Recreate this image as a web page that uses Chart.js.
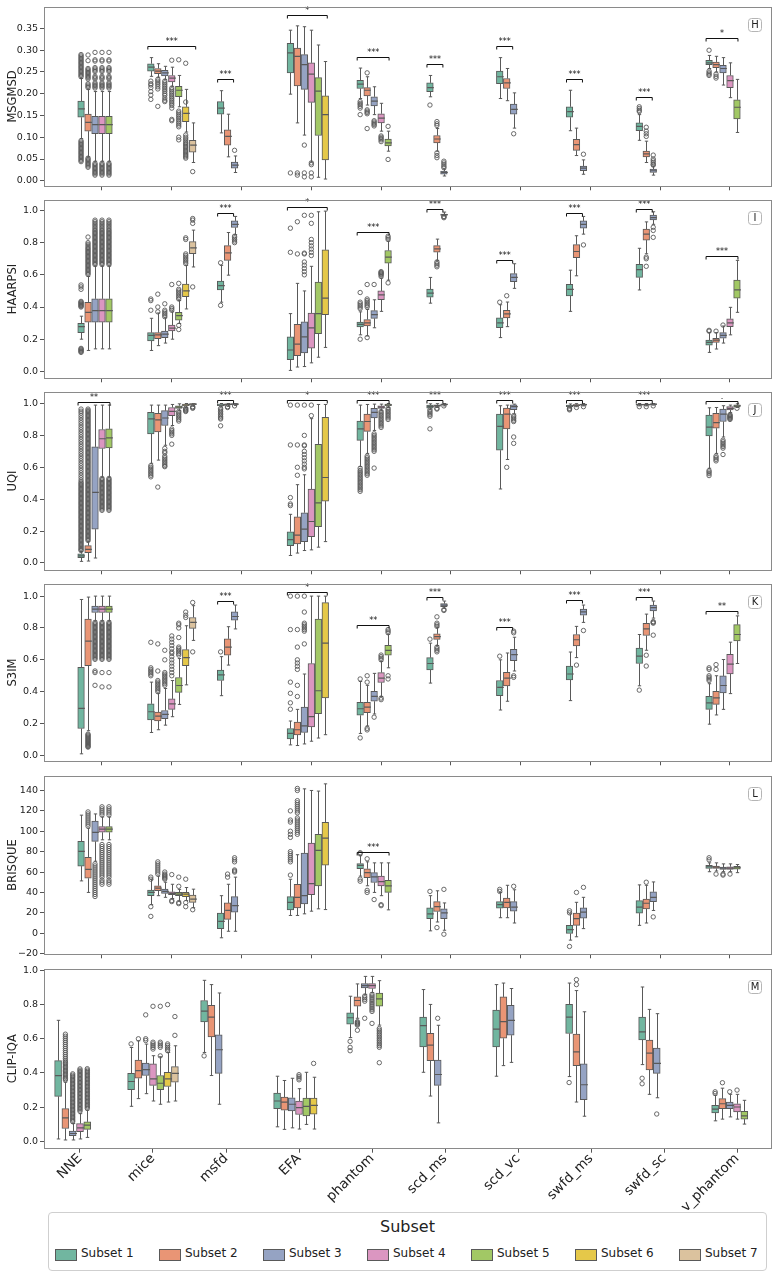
<!DOCTYPE html>
<html lang="en">
<head>
<meta charset="UTF-8">
<title>Metric distributions per subset</title>
<script src="https://cdn.jsdelivr.net/npm/chart.js"></script>
<style>
  body { margin: 0; background: #fff; font-family: "DejaVu Sans", sans-serif; }
  #page { position: relative; width: 777px; height: 1279px; overflow: hidden; }
  #page canvas { position: absolute; left: 0; }
  .legend { position: absolute; left: 48px; top: 1212px; width: 719px; height: 59px;
            border: 1px solid #cfcfcf; border-radius: 4px; box-sizing: border-box; color: #222; }
  .legend-title { position: absolute; top: 4px; left: 0; width: 100%; text-align: center; font-size: 16px; }
  .legend-item { position: absolute; top: 35px; height: 14px; font-size: 12px; white-space: nowrap; }
  .legend-item span.patch { position: absolute; left: 0; top: 1px; width: 20px; height: 10px; border: 1px solid #595959; }
  .legend-item span.label { position: absolute; left: 26px; top: -2px; }
</style>
</head>
<body>
<div id="page">
  <div class="legend" id="legend"><div class="legend-title">Subset</div></div>
</div>
<script>
// ---- data ----
const categories = ['NNE', 'mice', 'msfd', 'EFA', 'phantom', 'scd_ms', 'scd_vc', 'swfd_ms', 'swfd_sc', 'v_phantom'];
const subsets = ['Subset 1', 'Subset 2', 'Subset 3', 'Subset 4', 'Subset 5', 'Subset 6', 'Subset 7'];

const msgmsdTicks = [0, 0.05, 0.1, 0.15, 0.2, 0.25, 0.3, 0.35];
const unitTicks = [0, 0.2, 0.4, 0.6, 0.8, 1.0];
const brisqueTicks = [-20, 0, 20, 40, 60, 80, 100, 120, 140];

// box rows: [category, subset, lower whisker, q1, median, q3, upper whisker]
const msgmsdBoxes = [
  ['NNE', 1, 0.097, 0.146, 0.165, 0.183, 0.235], ['NNE', 2, 0.055, 0.114, 0.134, 0.153, 0.21],
  ['NNE', 3, 0.045, 0.108, 0.129, 0.148, 0.205], ['NNE', 4, 0.045, 0.108, 0.129, 0.148, 0.205],
  ['NNE', 5, 0.045, 0.108, 0.129, 0.148, 0.205],
  ['mice', 1, 0.24, 0.252, 0.261, 0.269, 0.283], ['mice', 2, 0.238, 0.246, 0.252, 0.258, 0.269],
  ['mice', 3, 0.233, 0.241, 0.248, 0.254, 0.263], ['mice', 4, 0.217, 0.227, 0.236, 0.242, 0.261],
  ['mice', 5, 0.17, 0.193, 0.208, 0.217, 0.242], ['mice', 6, 0.112, 0.136, 0.155, 0.17, 0.21],
  ['mice', 7, 0.042, 0.066, 0.082, 0.093, 0.133],
  ['msfd', 1, 0.11, 0.153, 0.167, 0.182, 0.207], ['msfd', 2, 0.055, 0.082, 0.102, 0.117, 0.153],
  ['msfd', 3, 0.019, 0.029, 0.036, 0.043, 0.057],
  ['EFA', 1, 0.199, 0.248, 0.294, 0.316, 0.346], ['EFA', 2, 0.133, 0.218, 0.286, 0.305, 0.356],
  ['EFA', 3, 0.105, 0.21, 0.267, 0.29, 0.354], ['EFA', 4, 0.043, 0.18, 0.245, 0.271, 0.346],
  ['EFA', 5, 0.008, 0.104, 0.206, 0.237, 0.312], ['EFA', 6, 0.004, 0.048, 0.152, 0.195, 0.274],
  ['phantom', 1, 0.189, 0.212, 0.222, 0.231, 0.259], ['phantom', 2, 0.174, 0.195, 0.208, 0.214, 0.239],
  ['phantom', 3, 0.152, 0.172, 0.183, 0.193, 0.216], ['phantom', 4, 0.114, 0.133, 0.144, 0.154, 0.178],
  ['phantom', 5, 0.068, 0.08, 0.087, 0.096, 0.114],
  ['scd_ms', 1, 0.193, 0.205, 0.214, 0.225, 0.242], ['scd_ms', 2, 0.068, 0.087, 0.096, 0.104, 0.12],
  ['scd_ms', 3, 0.011, 0.015, 0.019, 0.022, 0.027],
  ['scd_vc', 1, 0.189, 0.223, 0.239, 0.252, 0.283], ['scd_vc', 2, 0.184, 0.212, 0.225, 0.235, 0.258],
  ['scd_vc', 3, 0.121, 0.153, 0.164, 0.176, 0.202],
  ['swfd_ms', 1, 0.115, 0.146, 0.159, 0.17, 0.208], ['swfd_ms', 2, 0.058, 0.07, 0.083, 0.095, 0.121],
  ['swfd_ms', 3, 0.015, 0.023, 0.029, 0.034, 0.048],
  ['swfd_sc', 1, 0.093, 0.115, 0.125, 0.133, 0.152], ['swfd_sc', 2, 0.042, 0.055, 0.062, 0.068, 0.091],
  ['swfd_sc', 3, 0.013, 0.019, 0.023, 0.027, 0.034],
  ['v_phantom', 1, 0.258, 0.267, 0.271, 0.277, 0.288], ['v_phantom', 2, 0.25, 0.26, 0.267, 0.273, 0.286],
  ['v_phantom', 3, 0.22, 0.248, 0.258, 0.265, 0.283], ['v_phantom', 4, 0.191, 0.214, 0.23, 0.242, 0.271],
  ['v_phantom', 5, 0.111, 0.142, 0.169, 0.186, 0.233]
];
const msgmsdOutliers = [
  ['NNE', 1, [0.29, 0.287, 0.284, 0.281, 0.278, 0.275, 0.272, 0.269, 0.266, 0.263, 0.26, 0.257, 0.254, 0.251, 0.248, 0.245, 0.242, 0.239,
              0.092, 0.089, 0.086, 0.083, 0.08, 0.077, 0.074, 0.071, 0.068, 0.065, 0.062, 0.059, 0.056, 0.053, 0.05, 0.047, 0.044]],
  ['NNE', 2, [0.289, 0.276, 0.258, 0.255, 0.252, 0.249, 0.246, 0.243, 0.24, 0.237, 0.234, 0.223, 0.22, 0.217, 0.214,
              0.052, 0.049, 0.046, 0.043, 0.04, 0.037, 0.034, 0.031]],
  ['NNE', 3, [0.295, 0.278, 0.275, 0.26, 0.257, 0.254, 0.251, 0.24, 0.237, 0.234, 0.225, 0.222, 0.219, 0.216, 0.213,
              0.04, 0.037, 0.034, 0.031, 0.028, 0.025, 0.022, 0.019, 0.016, 0.013]],
  ['NNE', 4, [0.295, 0.278, 0.275, 0.26, 0.257, 0.254, 0.251, 0.24, 0.237, 0.234, 0.225, 0.222, 0.219, 0.216, 0.213,
              0.04, 0.037, 0.034, 0.031, 0.028, 0.025, 0.022, 0.019, 0.016, 0.013]],
  ['NNE', 5, [0.295, 0.278, 0.275, 0.26, 0.257, 0.254, 0.251, 0.24, 0.237, 0.234, 0.225, 0.222, 0.219, 0.216, 0.213,
              0.04, 0.037, 0.034, 0.031, 0.028, 0.025, 0.022, 0.019, 0.016, 0.013]],
  ['mice', 1, [0.229, 0.223, 0.22, 0.214, 0.205, 0.197, 0.187]],
  ['mice', 2, [0.233, 0.229, 0.225, 0.221, 0.216, 0.211, 0.171]],
  ['mice', 3, [0.229, 0.225, 0.221, 0.217, 0.213, 0.209, 0.205, 0.2, 0.196, 0.19, 0.185, 0.182]],
  ['mice', 4, [0.277, 0.213, 0.209, 0.205, 0.201, 0.197, 0.193, 0.189, 0.185, 0.181, 0.177, 0.173, 0.167, 0.141, 0.138]],
  ['mice', 5, [0.278, 0.16, 0.156, 0.152, 0.148, 0.144, 0.14, 0.136, 0.132, 0.128, 0.124, 0.1, 0.094]],
  ['mice', 6, [0.27, 0.181, 0.105, 0.1, 0.096, 0.092, 0.088, 0.085, 0.082, 0.079, 0.076, 0.073, 0.07, 0.067, 0.064, 0.061, 0.058, 0.055, 0.052]],
  ['mice', 7, [0.021]],
  ['msfd', 3, [0.07]],
  ['EFA', 1, [0.018]], ['EFA', 2, [0.018, 0.013]], ['EFA', 3, [0.082, 0.018, 0.009]], ['EFA', 4, [0.041, 0.037, 0.018, 0.009]],
  ['phantom', 1, [0.182, 0.178, 0.175, 0.171, 0.167, 0.152]], ['phantom', 2, [0.248, 0.163, 0.16, 0.157, 0.154, 0.12]],
  ['phantom', 3, [0.138, 0.135, 0.132, 0.129, 0.126]], ['phantom', 4, [0.103, 0.1, 0.097, 0.094, 0.09]],
  ['phantom', 5, [0.125, 0.049]],
  ['scd_ms', 1, [0.174]], ['scd_ms', 2, [0.136, 0.131, 0.127, 0.064, 0.058, 0.053]], ['scd_ms', 3, [0.045, 0.041, 0.037, 0.033, 0.03]],
  ['scd_vc', 3, [0.108]],
  ['swfd_ms', 3, [0.061]],
  ['swfd_sc', 1, [0.17, 0.166, 0.162, 0.159]], ['swfd_sc', 2, [0.123, 0.114, 0.108, 0.102]],
  ['swfd_sc', 3, [0.059, 0.05, 0.046, 0.042, 0.038, 0.036]],
  ['v_phantom', 1, [0.3, 0.252, 0.248, 0.245, 0.242]], ['v_phantom', 2, [0.245, 0.24, 0.236]]
];
// significance brackets: [category, first subset, last subset, height, label]
const msgmsdSig = [
  ['mice', 1, 7, 0.309, '***'], ['msfd', 1, 3, 0.233, '***'], ['EFA', 1, 6, 0.381, '*'], ['phantom', 1, 5, 0.284, '***'],
  ['scd_ms', 1, 3, 0.269, '***'], ['scd_vc', 1, 3, 0.309, '***'], ['swfd_ms', 1, 3, 0.233, '***'],
  ['swfd_sc', 1, 3, 0.193, '***'], ['v_phantom', 1, 5, 0.328, '*']
];

const haarpsiBoxes = [
  ['NNE', 1, 0.2, 0.241, 0.278, 0.298, 0.343], ['NNE', 2, 0.13, 0.306, 0.367, 0.429, 0.59],
  ['NNE', 3, 0.14, 0.306, 0.378, 0.451, 0.655], ['NNE', 4, 0.14, 0.306, 0.378, 0.451, 0.655],
  ['NNE', 5, 0.14, 0.306, 0.378, 0.451, 0.655],
  ['mice', 1, 0.13, 0.19, 0.224, 0.241, 0.33], ['mice', 2, 0.16, 0.204, 0.227, 0.241, 0.363],
  ['mice', 3, 0.176, 0.21, 0.231, 0.251, 0.333], ['mice', 4, 0.2, 0.251, 0.269, 0.288, 0.37],
  ['mice', 5, 0.298, 0.318, 0.347, 0.367, 0.44], ['mice', 6, 0.388, 0.465, 0.5, 0.543, 0.659],
  ['mice', 7, 0.649, 0.731, 0.767, 0.806, 0.878],
  ['msfd', 1, 0.43, 0.506, 0.533, 0.561, 0.659], ['msfd', 2, 0.598, 0.69, 0.737, 0.782, 0.863],
  ['msfd', 3, 0.85, 0.894, 0.914, 0.935, 0.963],
  ['EFA', 1, 0.006, 0.073, 0.133, 0.214, 0.359], ['EFA', 2, 0.027, 0.098, 0.169, 0.292, 0.547],
  ['EFA', 3, 0.03, 0.114, 0.214, 0.308, 0.5], ['EFA', 4, 0.053, 0.145, 0.271, 0.363, 0.653],
  ['EFA', 5, 0.088, 0.235, 0.359, 0.555, 0.992], ['EFA', 6, 0.149, 0.353, 0.455, 0.755, 0.996],
  ['phantom', 1, 0.227, 0.276, 0.292, 0.306, 0.37], ['phantom', 2, 0.22, 0.282, 0.302, 0.322, 0.385],
  ['phantom', 3, 0.271, 0.329, 0.353, 0.378, 0.445], ['phantom', 4, 0.373, 0.445, 0.476, 0.5, 0.58],
  ['phantom', 5, 0.567, 0.673, 0.71, 0.751, 0.81],
  ['scd_ms', 1, 0.424, 0.461, 0.486, 0.512, 0.584], ['scd_ms', 2, 0.69, 0.741, 0.761, 0.782, 0.822],
  ['scd_ms', 3, 0.966, 0.97, 0.974, 0.978, 0.99],
  ['scd_vc', 1, 0.21, 0.271, 0.302, 0.333, 0.414], ['scd_vc', 2, 0.278, 0.333, 0.357, 0.38, 0.431],
  ['scd_vc', 3, 0.516, 0.557, 0.584, 0.608, 0.669],
  ['swfd_ms', 1, 0.373, 0.469, 0.51, 0.541, 0.629], ['swfd_ms', 2, 0.594, 0.706, 0.745, 0.788, 0.843],
  ['swfd_ms', 3, 0.853, 0.89, 0.914, 0.935, 0.963],
  ['swfd_sc', 1, 0.506, 0.584, 0.633, 0.665, 0.765], ['swfd_sc', 2, 0.731, 0.816, 0.853, 0.884, 0.929],
  ['swfd_sc', 3, 0.914, 0.941, 0.955, 0.971, 0.992],
  ['v_phantom', 1, 0.118, 0.163, 0.18, 0.194, 0.241], ['v_phantom', 2, 0.139, 0.18, 0.194, 0.206, 0.241],
  ['v_phantom', 3, 0.176, 0.206, 0.224, 0.241, 0.282], ['v_phantom', 4, 0.227, 0.278, 0.302, 0.327, 0.398],
  ['v_phantom', 5, 0.367, 0.455, 0.506, 0.567, 0.69]
];
const haarpsiOutliers = [
  ['NNE', 1, [0.537, 0.525, 0.51, 0.435, 0.43, 0.425, 0.42, 0.415, 0.41, 0.405, 0.4, 0.143, 0.138, 0.133, 0.128, 0.123, 0.118]],
  ['NNE', 2, [0.835, 0.8, 0.79, 0.78, 0.77, 0.762, 0.754, 0.746, 0.738, 0.73, 0.722, 0.714, 0.706, 0.698, 0.69, 0.682,
              0.674, 0.666, 0.658, 0.65, 0.642, 0.634, 0.626, 0.618, 0.61, 0.602]],
  ['NNE', 3, [0.94, 0.93, 0.92, 0.91, 0.9, 0.89, 0.88, 0.872, 0.864, 0.856, 0.848, 0.84, 0.832, 0.824, 0.816, 0.808, 0.8,
              0.792, 0.784, 0.776, 0.768, 0.76, 0.752, 0.744, 0.736, 0.728, 0.72, 0.712, 0.704, 0.696, 0.688, 0.68, 0.672, 0.664]],
  ['NNE', 4, [0.94, 0.93, 0.92, 0.91, 0.9, 0.89, 0.88, 0.872, 0.864, 0.856, 0.848, 0.84, 0.832, 0.824, 0.816, 0.808, 0.8,
              0.792, 0.784, 0.776, 0.768, 0.76, 0.752, 0.744, 0.736, 0.728, 0.72, 0.712, 0.704, 0.696, 0.688, 0.68, 0.672, 0.664]],
  ['NNE', 5, [0.94, 0.93, 0.92, 0.91, 0.9, 0.89, 0.88, 0.872, 0.864, 0.856, 0.848, 0.84, 0.832, 0.824, 0.816, 0.808, 0.8,
              0.792, 0.784, 0.776, 0.768, 0.76, 0.752, 0.744, 0.736, 0.728, 0.72, 0.712, 0.704, 0.696, 0.688, 0.68, 0.672, 0.664]],
  ['mice', 1, [0.45, 0.44, 0.38]], ['mice', 2, [0.48, 0.4, 0.37]], ['mice', 3, [0.42, 0.38, 0.37, 0.36, 0.35, 0.34]],
  ['mice', 4, [0.54, 0.4, 0.39, 0.38]], ['mice', 5, [0.547, 0.51, 0.5, 0.49, 0.48, 0.47, 0.46, 0.45, 0.286, 0.26]],
  ['mice', 6, [0.83, 0.82, 0.73, 0.72, 0.71, 0.7, 0.69, 0.68, 0.67]], ['mice', 7, [0.95, 0.94, 0.92, 0.525]],
  ['msfd', 1, [0.675, 0.41]], ['msfd', 3, [0.84, 0.83, 0.82, 0.81, 0.8]],
  ['EFA', 1, [0.89, 0.74]], ['EFA', 2, [0.93, 0.73]], ['EFA', 3, [0.97, 0.735, 0.73, 0.68, 0.66, 0.64, 0.62, 0.6]],
  ['EFA', 4, [0.97, 0.92, 0.82, 0.8, 0.78, 0.76, 0.74, 0.72]],
  ['phantom', 1, [0.49, 0.43, 0.42, 0.41, 0.4, 0.39, 0.2]], ['phantom', 2, [0.54, 0.45, 0.44, 0.43, 0.42, 0.41, 0.4, 0.21]],
  ['phantom', 3, [0.54]], ['phantom', 4, [0.62, 0.615, 0.61, 0.605, 0.6, 0.59]], ['phantom', 5, [0.84, 0.83, 0.82, 0.55]],
  ['scd_ms', 2, [0.68, 0.67, 0.66, 0.65]], ['scd_ms', 3, [0.963, 0.96, 0.955]],
  ['scd_vc', 1, [0.43]], ['scd_vc', 2, [0.47]],
  ['swfd_ms', 3, [0.786]],
  ['swfd_sc', 2, [0.71, 0.7, 0.653]], ['swfd_sc', 3, [0.896, 0.876, 0.833]],
  ['v_phantom', 1, [0.255, 0.25]], ['v_phantom', 2, [0.25]], ['v_phantom', 3, [0.288]]
];
const haarpsiSig = [
  ['msfd', 1, 3, 0.986, '***'], ['EFA', 1, 6, 1.02, '*'], ['phantom', 1, 5, 0.869, '***'], ['scd_ms', 1, 3, 1.012, '***'],
  ['scd_vc', 1, 3, 0.694, '***'], ['swfd_ms', 1, 3, 0.986, '***'], ['swfd_sc', 1, 3, 1.012, '***'], ['v_phantom', 1, 5, 0.716, '***']
];

const uqiBoxes = [
  ['NNE', 1, 0.01, 0.033, 0.045, 0.058, 0.072], ['NNE', 2, 0.012, 0.064, 0.085, 0.109, 0.136],
  ['NNE', 3, 0.031, 0.212, 0.443, 0.728, 0.99], ['NNE', 4, 0.538, 0.718, 0.779, 0.837, 0.99],
  ['NNE', 5, 0.538, 0.722, 0.784, 0.841, 0.99],
  ['mice', 1, 0.625, 0.81, 0.903, 0.944, 0.99], ['mice', 2, 0.645, 0.821, 0.897, 0.938, 0.99],
  ['mice', 3, 0.738, 0.862, 0.909, 0.955, 0.99], ['mice', 4, 0.862, 0.924, 0.951, 0.975, 0.994],
  ['mice', 5, 0.955, 0.969, 0.977, 0.986, 0.998], ['mice', 6, 0.975, 0.986, 0.992, 0.996, 1.0],
  ['mice', 7, 0.985, 0.992, 0.996, 1.0, 1.0],
  ['msfd', 1, 0.979, 0.986, 0.99, 0.996, 1.0], ['msfd', 2, 0.982, 0.99, 0.994, 0.998, 1.0],
  ['msfd', 3, 0.988, 0.993, 0.996, 0.999, 1.0],
  ['EFA', 1, 0.047, 0.109, 0.146, 0.196, 0.305], ['EFA', 2, 0.062, 0.12, 0.175, 0.289, 0.491],
  ['EFA', 3, 0.078, 0.134, 0.212, 0.315, 0.553], ['EFA', 4, 0.082, 0.165, 0.26, 0.464, 0.905],
  ['EFA', 5, 0.099, 0.227, 0.377, 0.744, 0.994], ['EFA', 6, 0.134, 0.388, 0.536, 0.913, 0.994],
  ['phantom', 1, 0.604, 0.769, 0.841, 0.889, 0.99], ['phantom', 2, 0.687, 0.825, 0.887, 0.934, 0.994],
  ['phantom', 3, 0.831, 0.909, 0.944, 0.969, 0.996], ['phantom', 4, 0.955, 0.969, 0.977, 0.986, 0.996],
  ['phantom', 5, 0.975, 0.986, 0.992, 0.996, 1.0],
  ['scd_ms', 1, 0.965, 0.971, 0.981, 0.99, 0.998], ['scd_ms', 2, 0.975, 0.982, 0.987, 0.992, 0.999],
  ['scd_ms', 3, 0.985, 0.99, 0.994, 0.997, 1.0],
  ['scd_vc', 1, 0.464, 0.707, 0.856, 0.934, 0.986], ['scd_vc', 2, 0.649, 0.841, 0.934, 0.971, 0.99],
  ['scd_vc', 3, 0.934, 0.961, 0.981, 0.992, 0.996],
  ['swfd_ms', 1, 0.972, 0.98, 0.985, 0.99, 0.997], ['swfd_ms', 2, 0.98, 0.986, 0.99, 0.994, 0.999],
  ['swfd_ms', 3, 0.985, 0.99, 0.993, 0.996, 1.0],
  ['swfd_sc', 1, 0.985, 0.99, 0.993, 0.996, 1.0], ['swfd_sc', 2, 0.985, 0.99, 0.993, 0.996, 1.0],
  ['swfd_sc', 3, 0.99, 0.993, 0.996, 0.998, 1.0],
  ['v_phantom', 1, 0.594, 0.796, 0.852, 0.928, 0.973], ['v_phantom', 2, 0.687, 0.845, 0.88, 0.938, 0.975],
  ['v_phantom', 3, 0.79, 0.887, 0.934, 0.965, 0.986], ['v_phantom', 4, 0.944, 0.959, 0.969, 0.981, 0.99],
  ['v_phantom', 5, 0.975, 0.979, 0.986, 0.992, 0.998]
];
const uqiOutliers = [
  ['NNE', 1, [0.965, 0.952, 0.94, 0.925, 0.91, 0.895, 0.88, 0.865, 0.85, 0.835, 0.82, 0.805, 0.79, 0.775, 0.76, 0.745, 0.73,
              0.715, 0.7, 0.685, 0.67, 0.655, 0.64, 0.625, 0.61, 0.595, 0.58, 0.565, 0.55, 0.535, 0.52,
              0.508, 0.5, 0.492, 0.484, 0.476, 0.468, 0.46, 0.452, 0.444, 0.436, 0.428, 0.42, 0.412, 0.404, 0.396, 0.388,
              0.38, 0.372, 0.364, 0.356, 0.348, 0.34, 0.332, 0.324, 0.316, 0.308, 0.3, 0.292, 0.284, 0.276, 0.268, 0.26,
              0.252, 0.244, 0.236, 0.228, 0.22, 0.212, 0.204, 0.196, 0.188, 0.18, 0.172, 0.164, 0.156, 0.148, 0.14, 0.132,
              0.124, 0.116, 0.108, 0.1, 0.092, 0.084, 0.078]],
  ['NNE', 2, [0.965, 0.957, 0.949, 0.941, 0.933, 0.925, 0.917, 0.909, 0.901, 0.893, 0.885, 0.877, 0.869, 0.861, 0.853, 0.845,
              0.837, 0.829, 0.821, 0.813, 0.805, 0.797, 0.789, 0.781, 0.773, 0.765, 0.757, 0.749, 0.741, 0.733, 0.725, 0.717,
              0.709, 0.701, 0.693, 0.685, 0.677, 0.669, 0.661, 0.653, 0.645, 0.637, 0.629, 0.621, 0.613, 0.605, 0.597, 0.589,
              0.581, 0.573, 0.565, 0.557, 0.549, 0.541, 0.533, 0.525, 0.517, 0.509, 0.501, 0.493, 0.485, 0.477, 0.469, 0.461,
              0.453, 0.445, 0.437, 0.429, 0.421, 0.413, 0.405, 0.397, 0.389, 0.381, 0.373, 0.365, 0.357, 0.349, 0.341, 0.333,
              0.325, 0.317, 0.309, 0.301, 0.293, 0.285, 0.277, 0.269, 0.261, 0.253, 0.245, 0.237, 0.229, 0.221, 0.213, 0.205,
              0.197, 0.189, 0.181, 0.173, 0.165, 0.157, 0.149, 0.141]],
  ['NNE', 4, [0.53, 0.522, 0.514, 0.506, 0.498, 0.49, 0.482, 0.474, 0.466, 0.458, 0.45, 0.442, 0.434, 0.426, 0.418, 0.41,
              0.402, 0.394, 0.386, 0.378, 0.37, 0.362, 0.354, 0.346, 0.338, 0.33]],
  ['NNE', 5, [0.53, 0.522, 0.514, 0.506, 0.498, 0.49, 0.482, 0.474, 0.466, 0.458, 0.45, 0.442, 0.434, 0.426, 0.418, 0.41,
              0.402, 0.394, 0.386, 0.378, 0.37, 0.362, 0.354, 0.346, 0.338, 0.33]],
  ['mice', 1, [0.61, 0.6, 0.59, 0.58, 0.57, 0.56, 0.55, 0.54]], ['mice', 2, [0.476]],
  ['mice', 3, [0.718, 0.7, 0.69, 0.67, 0.66, 0.65, 0.64, 0.63, 0.62, 0.61, 0.604]],
  ['mice', 4, [0.84, 0.83, 0.82, 0.81, 0.8, 0.745]], ['mice', 5, [0.95, 0.94, 0.93, 0.92, 0.91, 0.9, 0.89]],
  ['mice', 6, [0.97, 0.965, 0.96, 0.955, 0.95]], ['mice', 7, [0.98, 0.975, 0.97]],
  ['msfd', 1, [0.969, 0.96, 0.95, 0.94, 0.93, 0.92, 0.91, 0.903, 0.86]], ['msfd', 2, [0.98, 0.975]], ['msfd', 3, [0.985]],
  ['EFA', 1, [0.99, 0.74, 0.41, 0.37, 0.36]], ['EFA', 2, [0.99, 0.74, 0.6, 0.55]],
  ['EFA', 3, [0.99, 0.8, 0.74, 0.735, 0.7, 0.68, 0.66, 0.64, 0.62, 0.6, 0.59]], ['EFA', 4, [0.99, 0.924]],
  ['phantom', 1, [0.594, 0.58, 0.57, 0.56, 0.55, 0.54, 0.53, 0.52, 0.51, 0.5, 0.49, 0.48, 0.47, 0.46, 0.449]],
  ['phantom', 2, [0.67, 0.66, 0.65, 0.64, 0.63, 0.62, 0.61, 0.6, 0.59, 0.58, 0.57, 0.56, 0.55]],
  ['phantom', 3, [0.81, 0.8, 0.79, 0.78, 0.77, 0.76, 0.75, 0.74, 0.73, 0.72, 0.71, 0.7, 0.595]],
  ['phantom', 4, [0.95, 0.94, 0.93, 0.92, 0.91, 0.9, 0.89, 0.88, 0.87, 0.86, 0.85]],
  ['phantom', 5, [0.97, 0.96, 0.95, 0.94, 0.93, 0.92, 0.91, 0.9]],
  ['scd_ms', 1, [0.96, 0.95, 0.94, 0.93, 0.92, 0.841]], ['scd_ms', 2, [0.97, 0.965]], ['scd_ms', 3, [0.985]],
  ['scd_vc', 2, [0.6]], ['scd_vc', 3, [0.924, 0.915, 0.905, 0.895, 0.887, 0.79, 0.75]],
  ['swfd_ms', 1, [0.97, 0.965, 0.96]], ['swfd_ms', 2, [0.975]], ['swfd_ms', 3, [0.98]],
  ['swfd_sc', 1, [0.98]], ['swfd_sc', 2, [0.98]], ['swfd_sc', 3, [0.985]],
  ['v_phantom', 1, [0.579, 0.57, 0.56, 0.548]], ['v_phantom', 2, [0.67, 0.66, 0.65, 0.64]],
  ['v_phantom', 3, [0.77, 0.76, 0.75, 0.74, 0.73, 0.72, 0.68]], ['v_phantom', 4, [0.93, 0.925, 0.92, 0.915, 0.91, 0.905, 0.9]],
  ['v_phantom', 5, [0.97]]
];
const uqiSig = [
  ['NNE', 1, 5, 1.012, '**'], ['msfd', 1, 3, 1.023, '***'], ['EFA', 1, 6, 1.023, '*'], ['phantom', 1, 5, 1.023, '***'],
  ['scd_ms', 1, 3, 1.023, '***'], ['scd_vc', 1, 3, 1.023, '***'], ['swfd_ms', 1, 3, 1.023, '***'],
  ['swfd_sc', 1, 3, 1.023, '***'], ['v_phantom', 1, 5, 1.016, '.']
];

const s3imBoxes = [
  ['NNE', 1, 0.01, 0.169, 0.295, 0.553, 0.979], ['NNE', 2, 0.155, 0.563, 0.718, 0.856, 0.994],
  ['NNE', 3, 0.845, 0.897, 0.918, 0.938, 1.0], ['NNE', 4, 0.845, 0.897, 0.918, 0.938, 1.0],
  ['NNE', 5, 0.845, 0.897, 0.918, 0.938, 1.0],
  ['mice', 1, 0.144, 0.223, 0.274, 0.324, 0.46], ['mice', 2, 0.161, 0.216, 0.247, 0.272, 0.39],
  ['mice', 3, 0.19, 0.231, 0.258, 0.282, 0.42], ['mice', 4, 0.243, 0.289, 0.324, 0.355, 0.47],
  ['mice', 5, 0.32, 0.396, 0.439, 0.489, 0.608], ['mice', 6, 0.443, 0.563, 0.614, 0.664, 0.814],
  ['mice', 7, 0.722, 0.798, 0.835, 0.866, 0.94],
  ['msfd', 1, 0.375, 0.47, 0.505, 0.536, 0.62], ['msfd', 2, 0.567, 0.629, 0.68, 0.732, 0.808],
  ['msfd', 3, 0.794, 0.849, 0.872, 0.901, 0.944],
  ['EFA', 1, 0.066, 0.103, 0.138, 0.169, 0.216], ['EFA', 2, 0.062, 0.128, 0.161, 0.21, 0.289],
  ['EFA', 3, 0.072, 0.144, 0.186, 0.303, 0.511], ['EFA', 4, 0.089, 0.179, 0.243, 0.577, 1.0],
  ['EFA', 5, 0.109, 0.262, 0.406, 0.856, 1.0], ['EFA', 6, 0.13, 0.361, 0.705, 0.959, 1.0],
  ['phantom', 1, 0.138, 0.252, 0.293, 0.334, 0.464], ['phantom', 2, 0.185, 0.268, 0.303, 0.334, 0.44],
  ['phantom', 3, 0.26, 0.34, 0.371, 0.402, 0.515], ['phantom', 4, 0.37, 0.458, 0.485, 0.52, 0.59],
  ['phantom', 5, 0.55, 0.629, 0.66, 0.691, 0.76],
  ['scd_ms', 1, 0.454, 0.536, 0.577, 0.614, 0.705], ['scd_ms', 2, 0.69, 0.728, 0.746, 0.763, 0.804],
  ['scd_ms', 3, 0.924, 0.934, 0.944, 0.953, 0.969],
  ['scd_vc', 1, 0.285, 0.375, 0.427, 0.47, 0.6], ['scd_vc', 2, 0.34, 0.437, 0.485, 0.522, 0.643],
  ['scd_vc', 3, 0.53, 0.594, 0.633, 0.666, 0.742],
  ['swfd_ms', 1, 0.344, 0.474, 0.511, 0.561, 0.649], ['swfd_ms', 2, 0.614, 0.687, 0.726, 0.759, 0.81],
  ['swfd_ms', 3, 0.835, 0.88, 0.901, 0.918, 0.944],
  ['swfd_sc', 1, 0.437, 0.577, 0.623, 0.674, 0.759], ['swfd_sc', 2, 0.66, 0.753, 0.794, 0.829, 0.887],
  ['swfd_sc', 3, 0.862, 0.907, 0.928, 0.944, 0.969],
  ['v_phantom', 1, 0.196, 0.289, 0.33, 0.371, 0.45], ['v_phantom', 2, 0.254, 0.32, 0.361, 0.402, 0.5],
  ['v_phantom', 3, 0.289, 0.392, 0.439, 0.499, 0.602], ['v_phantom', 4, 0.388, 0.511, 0.573, 0.635, 0.711],
  ['v_phantom', 5, 0.577, 0.718, 0.759, 0.821, 0.876]
];
const s3imOutliers = [
  ['NNE', 2, [0.134, 0.128, 0.122, 0.116, 0.11, 0.104, 0.098, 0.092, 0.086, 0.08, 0.074, 0.068, 0.062, 0.056, 0.052]],
  ['NNE', 3, [0.835, 0.827, 0.819, 0.811, 0.803, 0.795, 0.787, 0.779, 0.771, 0.763, 0.755, 0.747, 0.739, 0.731, 0.723, 0.715,
              0.707, 0.699, 0.691, 0.683, 0.675, 0.667, 0.659, 0.651, 0.643, 0.635, 0.627, 0.619, 0.611, 0.603, 0.53, 0.52, 0.44]],
  ['NNE', 4, [0.835, 0.827, 0.819, 0.811, 0.803, 0.795, 0.787, 0.779, 0.771, 0.763, 0.755, 0.747, 0.739, 0.731, 0.723, 0.715,
              0.707, 0.699, 0.691, 0.683, 0.675, 0.667, 0.659, 0.651, 0.643, 0.635, 0.627, 0.619, 0.611, 0.603, 0.52, 0.43]],
  ['NNE', 5, [0.835, 0.827, 0.819, 0.811, 0.803, 0.795, 0.787, 0.779, 0.771, 0.763, 0.755, 0.747, 0.739, 0.731, 0.723, 0.715,
              0.707, 0.699, 0.691, 0.683, 0.675, 0.667, 0.659, 0.651, 0.643, 0.635, 0.627, 0.619, 0.611, 0.603, 0.52, 0.43]],
  ['mice', 1, [0.71, 0.55, 0.54, 0.53, 0.52, 0.51, 0.5]], ['mice', 2, [0.7, 0.53, 0.47, 0.46, 0.45, 0.44, 0.43, 0.42, 0.41, 0.4]],
  ['mice', 3, [0.66, 0.6, 0.52, 0.51, 0.5, 0.49, 0.48, 0.47, 0.46, 0.45, 0.44]],
  ['mice', 4, [0.75, 0.73, 0.71, 0.69, 0.67, 0.65, 0.64, 0.62, 0.6, 0.58, 0.56, 0.54, 0.52, 0.5]],
  ['mice', 5, [0.83, 0.82, 0.8, 0.74, 0.68, 0.67, 0.66, 0.65, 0.64, 0.63]], ['mice', 6, [0.9, 0.88, 0.866]], ['mice', 7, [0.96, 0.65]],
  ['msfd', 1, [0.65]],
  ['EFA', 1, [1.0, 0.79, 0.46, 0.39, 0.33, 0.29]], ['EFA', 2, [1.0, 0.79, 0.68, 0.6, 0.58, 0.56, 0.54, 0.44, 0.37]],
  ['EFA', 3, [1.0, 0.9, 0.83, 0.82, 0.81, 0.8, 0.79, 0.78, 0.7]],
  ['phantom', 1, [0.48, 0.11]], ['phantom', 2, [0.5, 0.46, 0.17, 0.16]], ['phantom', 3, [0.24]],
  ['phantom', 4, [0.63, 0.62, 0.61, 0.6, 0.36, 0.35]], ['phantom', 5, [0.79, 0.78, 0.77, 0.5, 0.48]],
  ['scd_ms', 1, [0.73]], ['scd_ms', 2, [0.87, 0.83, 0.82, 0.81, 0.68, 0.67, 0.66, 0.65]], ['scd_ms', 3, [0.915, 0.91]],
  ['scd_vc', 1, [0.623]], ['scd_vc', 3, [0.78, 0.77, 0.5, 0.49]],
  ['swfd_ms', 2, [0.567]], ['swfd_ms', 3, [0.784]],
  ['swfd_sc', 1, [0.41]], ['swfd_sc', 2, [0.629, 0.561]], ['swfd_sc', 3, [0.84, 0.835, 0.83, 0.755]],
  ['v_phantom', 1, [0.55, 0.54, 0.5, 0.49, 0.48, 0.47]], ['v_phantom', 2, [0.57, 0.54]]
];
const s3imSig = [
  ['msfd', 1, 3, 0.969, '***'], ['EFA', 1, 6, 1.027, '*'], ['phantom', 1, 5, 0.821, '**'], ['scd_ms', 1, 3, 0.994, '***'],
  ['scd_vc', 1, 3, 0.808, '***'], ['swfd_ms', 1, 3, 0.973, '***'], ['swfd_sc', 1, 3, 0.994, '***'], ['v_phantom', 1, 5, 0.907, '**']
];

const brisqueBoxes = [
  ['NNE', 1, 51.3, 65.8, 80.3, 90, 115.8], ['NNE', 2, 40, 53.9, 62.6, 74.5, 103],
  ['NNE', 3, 70.6, 90, 99, 110, 117], ['NNE', 4, 91.6, 99, 102, 104.5, 114], ['NNE', 5, 91.6, 99, 102, 104.5, 114],
  ['mice', 1, 28, 36.8, 40, 42.3, 52.9], ['mice', 2, 36.8, 41.6, 44.2, 46.5, 56],
  ['mice', 3, 35.2, 39, 41, 43.2, 50], ['mice', 4, 34, 37.7, 39, 40.6, 48],
  ['mice', 5, 31.5, 36.8, 38.4, 40, 43], ['mice', 6, 32, 35.8, 38.4, 40, 44.8], ['mice', 7, 25, 30.3, 33.5, 37.4, 43.2],
  ['msfd', 1, -4.5, 4.5, 11.6, 19.7, 36.8], ['msfd', 2, 1.9, 13.5, 22.3, 29.7, 48], ['msfd', 3, 1.9, 20.6, 27.1, 35.8, 55],
  ['EFA', 1, 17.4, 22.9, 30.3, 35.8, 52.9], ['EFA', 2, 17.4, 24.8, 35.2, 48, 77], ['EFA', 3, 19, 28.7, 36.8, 78.7, 141.6],
  ['EFA', 4, 21.6, 37.7, 48.7, 88.4, 140], ['EFA', 5, 23.9, 46.5, 81.3, 97, 139.4], ['EFA', 6, 23.2, 66.8, 93.2, 108.7, 146.5],
  ['phantom', 1, 56, 63.2, 66.5, 68.4, 76], ['phantom', 2, 46.5, 54.5, 59.4, 63.2, 70], ['phantom', 3, 40, 49.7, 55.2, 59.4, 69],
  ['phantom', 4, 36.8, 46.5, 50.6, 56.1, 69], ['phantom', 5, 22.9, 40, 46.5, 51.9, 69],
  ['scd_ms', 1, 2.3, 14.2, 19, 24.8, 36.8], ['scd_ms', 2, 11, 21.3, 26.1, 31, 41.6], ['scd_ms', 3, 2.9, 14.2, 20, 23.9, 29.7],
  ['scd_vc', 1, 15.2, 24.5, 28, 31, 40], ['scd_vc', 2, 15.2, 24.8, 30.3, 34.5, 47], ['scd_vc', 3, 10, 21.6, 25.5, 31, 42.6],
  ['swfd_ms', 1, -6.8, -0.3, 3.5, 7.7, 19], ['swfd_ms', 2, -3.5, 7.7, 14.2, 19.7, 30.3], ['swfd_ms', 3, 4.5, 14.8, 20.6, 24.8, 35.2],
  ['swfd_sc', 1, 7.7, 19.7, 25.5, 31.9, 47.4], ['swfd_sc', 2, 10, 23.9, 29.4, 33.5, 47], ['swfd_sc', 3, 22.3, 31, 35.2, 40.6, 50.3],
  ['v_phantom', 1, 60.3, 63.5, 65.2, 66.5, 69], ['v_phantom', 2, 61, 63.5, 64.8, 65.8, 69], ['v_phantom', 3, 60.3, 62.6, 63.8, 64.8, 68],
  ['v_phantom', 4, 60.3, 62.6, 63.8, 65.2, 68], ['v_phantom', 5, 59.4, 62.9, 64.2, 65.5, 67.4]
];
const brisqueOutliers = [
  ['NNE', 2, [119, 117, 115, 113, 111, 109, 107, 105]],
  ['NNE', 3, [68, 66, 64, 62, 60, 58, 56, 54, 52, 50, 48, 46, 44, 42, 40, 38, 36]],
  ['NNE', 4, [124, 122, 120, 118, 116, 87, 85, 83, 81, 79, 77, 75, 73, 71, 69, 67, 65, 63, 61, 59, 57, 55, 52, 50, 48]],
  ['NNE', 5, [124, 122, 120, 118, 116, 87, 85, 83, 81, 79, 77, 75, 73, 71, 69, 67, 65, 63, 61, 59, 57, 55, 52, 50, 48]],
  ['mice', 1, [55, 53, 26, 16.5]], ['mice', 2, [70, 68, 66, 64, 62, 60, 58]], ['mice', 3, [60, 58, 57, 56, 55, 54, 53]],
  ['mice', 4, [57.5, 32, 31]], ['mice', 5, [55, 46, 30, 29]], ['mice', 6, [53, 30, 26]], ['mice', 7, [23]],
  ['msfd', 2, [58, 55]], ['msfd', 3, [74, 72, 70, 62, 61, 60]],
  ['EFA', 1, [120, 111, 109, 100, 97, 94, 80, 78, 76, 74, 72, 70, 57]],
  ['EFA', 2, [142, 140, 130, 128, 126, 124, 122, 120, 118, 113, 111, 109, 107, 105, 103, 101, 99, 97]],
  ['phantom', 1, [79, 78, 53, 51]], ['phantom', 2, [73, 42, 40]], ['phantom', 3, [33]], ['phantom', 4, [28, 27]],
  ['scd_ms', 1, [41]], ['scd_ms', 2, [5.5]], ['scd_ms', 3, [43, -1]],
  ['scd_vc', 1, [43, 41]], ['scd_vc', 3, [46]],
  ['swfd_ms', 1, [22, 20, -13]], ['swfd_ms', 2, [40]], ['swfd_ms', 3, [45]],
  ['swfd_sc', 2, [50]], ['swfd_sc', 3, [16]],
  ['v_phantom', 1, [74, 72]], ['v_phantom', 2, [58]], ['v_phantom', 3, [58, 57]], ['v_phantom', 4, [58]]
];
const brisqueSig = [['phantom', 1, 5, 79.4, '***']];

const clipBoxes = [
  ['NNE', 1, 0.014, 0.263, 0.385, 0.472, 0.708], ['NNE', 2, 0.008, 0.075, 0.137, 0.191, 0.346],
  ['NNE', 3, 0.008, 0.033, 0.046, 0.06, 0.104], ['NNE', 4, 0.014, 0.056, 0.079, 0.104, 0.162],
  ['NNE', 5, 0.023, 0.07, 0.095, 0.114, 0.182],
  ['mice', 1, 0.205, 0.302, 0.35, 0.398, 0.549], ['mice', 2, 0.25, 0.369, 0.414, 0.476, 0.588],
  ['mice', 3, 0.279, 0.385, 0.42, 0.458, 0.569], ['mice', 4, 0.236, 0.327, 0.366, 0.453, 0.501],
  ['mice', 5, 0.217, 0.302, 0.34, 0.385, 0.495], ['mice', 6, 0.23, 0.321, 0.366, 0.404, 0.52],
  ['mice', 7, 0.236, 0.346, 0.398, 0.437, 0.559],
  ['msfd', 1, 0.52, 0.698, 0.762, 0.824, 0.942], ['msfd', 2, 0.385, 0.611, 0.727, 0.795, 0.917],
  ['msfd', 3, 0.217, 0.398, 0.536, 0.623, 0.868],
  ['EFA', 1, 0.085, 0.191, 0.236, 0.282, 0.381], ['EFA', 2, 0.07, 0.182, 0.23, 0.259, 0.356],
  ['EFA', 3, 0.079, 0.178, 0.217, 0.255, 0.369], ['EFA', 4, 0.072, 0.157, 0.197, 0.236, 0.308],
  ['EFA', 5, 0.099, 0.149, 0.205, 0.253, 0.404], ['EFA', 6, 0.072, 0.159, 0.211, 0.253, 0.375],
  ['phantom', 1, 0.607, 0.685, 0.723, 0.752, 0.849], ['phantom', 2, 0.72, 0.791, 0.824, 0.845, 0.921],
  ['phantom', 3, 0.86, 0.897, 0.911, 0.923, 0.965], ['phantom', 4, 0.87, 0.894, 0.911, 0.923, 0.965],
  ['phantom', 5, 0.68, 0.791, 0.834, 0.868, 0.94],
  ['scd_ms', 1, 0.404, 0.553, 0.677, 0.727, 0.888], ['scd_ms', 2, 0.265, 0.472, 0.563, 0.632, 0.801],
  ['scd_ms', 3, 0.108, 0.327, 0.391, 0.476, 0.679],
  ['scd_vc', 1, 0.381, 0.553, 0.656, 0.768, 0.917], ['scd_vc', 2, 0.443, 0.603, 0.7, 0.845, 0.926],
  ['scd_vc', 3, 0.462, 0.621, 0.708, 0.795, 0.894],
  ['swfd_ms', 1, 0.379, 0.631, 0.727, 0.801, 0.926], ['swfd_ms', 2, 0.23, 0.443, 0.524, 0.627, 0.882],
  ['swfd_ms', 3, 0.147, 0.244, 0.331, 0.453, 0.758],
  ['swfd_sc', 1, 0.449, 0.594, 0.64, 0.727, 0.903], ['swfd_sc', 2, 0.275, 0.418, 0.516, 0.592, 0.772],
  ['swfd_sc', 3, 0.255, 0.398, 0.456, 0.545, 0.747],
  ['v_phantom', 1, 0.12, 0.166, 0.188, 0.211, 0.27], ['v_phantom', 2, 0.13, 0.191, 0.22, 0.25, 0.311],
  ['v_phantom', 3, 0.143, 0.191, 0.211, 0.23, 0.275], ['v_phantom', 4, 0.13, 0.172, 0.201, 0.22, 0.275],
  ['v_phantom', 5, 0.101, 0.13, 0.149, 0.176, 0.24]
];
const clipOutliers = [
  ['NNE', 2, [0.627, 0.615, 0.603, 0.591, 0.579, 0.567, 0.555, 0.543, 0.531, 0.519, 0.507, 0.495, 0.483, 0.471, 0.463, 0.455,
              0.447, 0.439, 0.431, 0.423, 0.415, 0.407, 0.399, 0.391, 0.383, 0.375, 0.367, 0.359]],
  ['NNE', 3, [0.395, 0.387, 0.379, 0.371, 0.363, 0.355, 0.347, 0.339, 0.331, 0.323, 0.315, 0.307, 0.299, 0.291, 0.283, 0.275,
              0.267, 0.259, 0.251, 0.243, 0.235, 0.227, 0.219, 0.211, 0.203, 0.195, 0.187, 0.179, 0.171, 0.163, 0.155, 0.147,
              0.139, 0.131, 0.123, 0.115]],
  ['NNE', 4, [0.424, 0.416, 0.408, 0.4, 0.392, 0.384, 0.376, 0.368, 0.36, 0.352, 0.344, 0.336, 0.328, 0.32, 0.312, 0.304,
              0.296, 0.288, 0.28, 0.272, 0.264, 0.256, 0.248, 0.24, 0.232, 0.224, 0.216, 0.208, 0.2, 0.192, 0.184, 0.176]],
  ['NNE', 5, [0.425, 0.417, 0.409, 0.401, 0.393, 0.385, 0.377, 0.369, 0.361, 0.353, 0.345, 0.337, 0.329, 0.321, 0.313, 0.305,
              0.297, 0.289, 0.281, 0.273, 0.265, 0.257, 0.249, 0.241, 0.233, 0.225, 0.217, 0.209, 0.201, 0.193]],
  ['mice', 1, [0.57]], ['mice', 2, [0.6]], ['mice', 3, [0.74, 0.6, 0.59]], ['mice', 4, [0.79, 0.58, 0.57, 0.56, 0.55, 0.54]],
  ['mice', 5, [0.79, 0.58, 0.57, 0.56, 0.55, 0.5]], ['mice', 6, [0.8, 0.57, 0.56, 0.55, 0.54, 0.53]], ['mice', 7, [0.73, 0.62]],
  ['msfd', 1, [0.5]],
  ['EFA', 4, [0.39, 0.38, 0.37, 0.36]], ['EFA', 6, [0.456]],
  ['phantom', 1, [0.585, 0.55, 0.53]], ['phantom', 2, [0.7, 0.695, 0.69, 0.685, 0.68, 0.65]],
  ['phantom', 3, [0.85, 0.84, 0.83, 0.82, 0.72]],
  ['phantom', 4, [0.86, 0.85, 0.84, 0.83, 0.82, 0.81, 0.8, 0.79, 0.78, 0.77, 0.76, 0.69]],
  ['phantom', 5, [0.66, 0.65, 0.64, 0.63, 0.62, 0.61, 0.6, 0.59, 0.58, 0.57, 0.56, 0.55, 0.46]],
  ['scd_ms', 3, [0.72]],
  ['swfd_ms', 1, [0.344]], ['swfd_ms', 2, [0.946, 0.917]],
  ['swfd_sc', 1, [0.369, 0.337]], ['swfd_sc', 3, [0.16]],
  ['v_phantom', 1, [0.29, 0.28]], ['v_phantom', 2, [0.343]], ['v_phantom', 3, [0.29]], ['v_phantom', 4, [0.3]]
];
const clipSig = [];

// ---- styles ----
const subsetColors = ['#71b6a0', '#e99575', '#95a3c3', '#db96c1', '#a2c865', '#e5c849', '#dbc29e'];
const lineGray = '#595959';
const textColor = '#222';
const fontFamily = "'DejaVu Sans', sans-serif";

const fmt2 = v => v.toFixed(2);
const fmt1 = v => v.toFixed(1);
const fmtInt = v => (v < 0 ? '\u2212' + Math.abs(v) : String(v));

const panels = [
  { id: 'msgmsd', title: 'MSGMSD', letter: 'H', boxes: msgmsdBoxes, outliers: msgmsdOutliers, sig: msgmsdSig,
    ticks: msgmsdTicks, fmt: fmt2, yMin: -0.0127, yMax: 0.4, top: 5.7, bottom: 187.3 },
  { id: 'haarpsi', title: 'HAARPSI', letter: 'I', boxes: haarpsiBoxes, outliers: haarpsiOutliers, sig: haarpsiSig,
    ticks: unitTicks, fmt: fmt1, yMin: -0.043, yMax: 1.067, top: 198.3, bottom: 379.7 },
  { id: 'uqi', title: 'UQI', letter: 'J', boxes: uqiBoxes, outliers: uqiOutliers, sig: uqiSig,
    ticks: unitTicks, fmt: fmt1, yMin: -0.046, yMax: 1.074, top: 390.3, bottom: 571.5 },
  { id: 's3im', title: 'S3IM', letter: 'K', boxes: s3imBoxes, outliers: s3imOutliers, sig: s3imSig,
    ticks: unitTicks, fmt: fmt1, yMin: -0.037, yMax: 1.078, top: 582.7, bottom: 763 },
  { id: 'brisque', title: 'BRISQUE', letter: 'L', boxes: brisqueBoxes, outliers: brisqueOutliers, sig: brisqueSig,
    ticks: brisqueTicks, fmt: fmtInt, yMin: -20.7, yMax: 154.5, top: 774.7, bottom: 955.7 },
  { id: 'clipiqa', title: 'CLIP-IQA', letter: 'M', boxes: clipBoxes, outliers: clipOutliers, sig: clipSig,
    ticks: unitTicks, fmt: fmt1, yMin: -0.043, yMax: 1.01, top: 967.3, bottom: 1148.7, showLabels: true }
];

const slot = 0.1;            // spacing of boxes inside a group
const bracketSlot = 0.8 / 7; // spacing used by the significance brackets
const xpos = (cat, s) => categories.indexOf(cat) + (s - 4) * slot;
const bracketX = (cat, s) => categories.indexOf(cat) + (s - 4) * bracketSlot;

const panelById = {};

const boxPlot = {
  id: 'boxPlot',
  beforeDatasetsDraw(chart) {
    const p = panelById[chart.canvas.id];
    const { ctx, scales: { x, y } } = chart;
    const cap = p.barPx / 4;
    ctx.save();
    ctx.strokeStyle = lineGray;
    ctx.lineWidth = 1;
    ctx.beginPath();
    p.boxes.forEach(([cat, s, lo, q1, med, q3, hi]) => {
      const cx = Math.round(x.getPixelForValue(xpos(cat, s))) + 0.5;
      const yLo = y.getPixelForValue(lo), yHi = y.getPixelForValue(hi);
      ctx.moveTo(cx, y.getPixelForValue(q3)); ctx.lineTo(cx, yHi);
      ctx.moveTo(cx, y.getPixelForValue(q1)); ctx.lineTo(cx, yLo);
      ctx.moveTo(cx - cap, yHi); ctx.lineTo(cx + cap, yHi);
      ctx.moveTo(cx - cap, yLo); ctx.lineTo(cx + cap, yLo);
    });
    ctx.stroke();
    ctx.restore();
  },
  afterDatasetsDraw(chart) {
    const p = panelById[chart.canvas.id];
    const { ctx, chartArea: a, scales: { x, y } } = chart;
    const half = p.barPx / 2;
    ctx.save();
    // medians
    ctx.strokeStyle = lineGray;
    ctx.lineWidth = 1.2;
    ctx.beginPath();
    p.boxes.forEach(([cat, s, lo, q1, med]) => {
      const cx = Math.round(x.getPixelForValue(xpos(cat, s))) + 0.5;
      const ym = y.getPixelForValue(med);
      ctx.moveTo(cx - half, ym); ctx.lineTo(cx + half, ym);
    });
    ctx.stroke();
    // significance brackets
    ctx.strokeStyle = '#111';
    ctx.fillStyle = '#111';
    ctx.lineWidth = 1;
    ctx.font = '8px ' + fontFamily;
    ctx.textAlign = 'center';
    ctx.textBaseline = 'alphabetic';
    p.sig.forEach(([cat, a0, a1, v, label]) => {
      const x0 = x.getPixelForValue(bracketX(cat, a0));
      const x1 = x.getPixelForValue(bracketX(cat, a1));
      const yy = Math.round(y.getPixelForValue(v)) + 0.5;
      ctx.beginPath();
      ctx.moveTo(x0, yy + 3); ctx.lineTo(x0, yy); ctx.lineTo(x1, yy); ctx.lineTo(x1, yy + 3);
      ctx.stroke();
      ctx.fillText(label, (x0 + x1) / 2, yy - 2.5);
    });
    // frame
    ctx.strokeStyle = '#8a8a8a';
    ctx.lineWidth = 1;
    ctx.strokeRect(Math.round(a.left) + 0.5, Math.round(a.top) + 0.5,
                   Math.round(a.right - a.left) - 1, Math.round(a.bottom - a.top) - 1);
    // panel letter
    const bx = Math.round(a.right - 24) + 0.5, by = Math.round(a.top + 11) + 0.5;
    ctx.beginPath();
    ctx.roundRect(bx, by, 13, 13, 3);
    ctx.fillStyle = '#fff';
    ctx.fill();
    ctx.strokeStyle = '#b5b5b5';
    ctx.stroke();
    ctx.fillStyle = textColor;
    ctx.font = '10px ' + fontFamily;
    ctx.textBaseline = 'middle';
    ctx.fillText(p.letter, bx + 6.5, by + 7);
    ctx.restore();
  }
};

const page = document.getElementById('page');

panels.forEach(p => {
  const xMin = p.showLabels ? -0.493 : -0.831;
  const xMax = p.showLabels ? 9.479 : 9.602;
  const plotW = 772 - 44;
  p.barPx = 0.095 * plotW / (xMax - xMin);
  const canvasTop = Math.floor(p.top) - 6;
  const padTop = p.top - canvasTop;
  const canvasH = Math.ceil(p.bottom - canvasTop + (p.showLabels ? 62 : 6));
  const xAxisH = canvasH - (p.bottom - canvasTop);

  const canvas = document.createElement('canvas');
  canvas.id = p.id;
  canvas.width = 777;
  canvas.height = canvasH;
  canvas.style.top = canvasTop + 'px';
  canvas.style.width = '777px';
  canvas.style.height = canvasH + 'px';
  page.appendChild(canvas);
  panelById[p.id] = p;

  const datasets = [];
  subsets.forEach((name, si) => {
    const rows = p.boxes.filter(r => r[1] === si + 1);
    datasets.push({
      type: 'bar', label: name, order: 2, grouped: false,
      data: rows.map(r => ({ x: xpos(r[0], r[1]), y: [r[3], r[5]] })),
      backgroundColor: subsetColors[si], borderColor: lineGray, borderWidth: 1,
      borderSkipped: false, barThickness: p.barPx
    });
  });
  subsets.forEach((name, si) => {
    const pts = [];
    p.outliers.filter(r => r[1] === si + 1)
      .forEach(r => r[2].forEach(v => pts.push({ x: xpos(r[0], r[1]), y: v })));
    datasets.push({
      type: 'scatter', label: name + ' outliers', order: 1, data: pts, showLine: false,
      pointRadius: 2.2, pointBorderWidth: 0.9, pointBorderColor: lineGray,
      pointBackgroundColor: 'rgba(0,0,0,0)'
    });
  });

  new Chart(canvas, {
    type: 'bar',
    data: { datasets },
    plugins: [boxPlot],
    options: {
      responsive: false, animation: false, events: [],
      layout: { padding: { left: 0, right: 5, top: padTop, bottom: 0 } },
      plugins: { legend: { display: false }, tooltip: { enabled: false } },
      scales: {
        x: {
          type: 'linear', min: xMin, max: xMax, offset: false,
          afterBuildTicks: s => { s.ticks = categories.map((c, i) => ({ value: i })); },
          afterFit: s => { s.height = xAxisH; },
          border: { display: false },
          grid: { drawOnChartArea: false, drawTicks: true, tickLength: 4, color: '#555', offset: false },
          ticks: {
            display: !!p.showLabels, autoSkip: false, minRotation: 45, maxRotation: 45, padding: -2,
            color: textColor, font: { family: fontFamily, size: 13.5 },
            callback: v => categories[v]
          }
        },
        y: {
          min: p.yMin, max: p.yMax,
          afterBuildTicks: s => { s.ticks = p.ticks.map(v => ({ value: v })); },
          afterFit: s => { s.width = 44; },
          border: { display: false },
          grid: { drawOnChartArea: false, drawTicks: true, tickLength: 4, color: '#555' },
          ticks: { padding: 2, color: textColor, font: { family: fontFamily, size: 9.5 }, callback: v => p.fmt(v) },
          title: { display: true, text: p.title, color: textColor, font: { family: fontFamily, size: 11.5 }, padding: { top: 6, bottom: 0 } }
        }
      }
    }
  });
});

// legend
const legend = document.getElementById('legend');
subsets.forEach((name, i) => {
  const item = document.createElement('div');
  item.className = 'legend-item';
  item.style.left = (6 + i * 104) + 'px';
  item.innerHTML = '<span class="patch" style="background:' + subsetColors[i] + '"></span><span class="label">' + name + '</span>';
  legend.appendChild(item);
});
</script>
</body>
</html>
